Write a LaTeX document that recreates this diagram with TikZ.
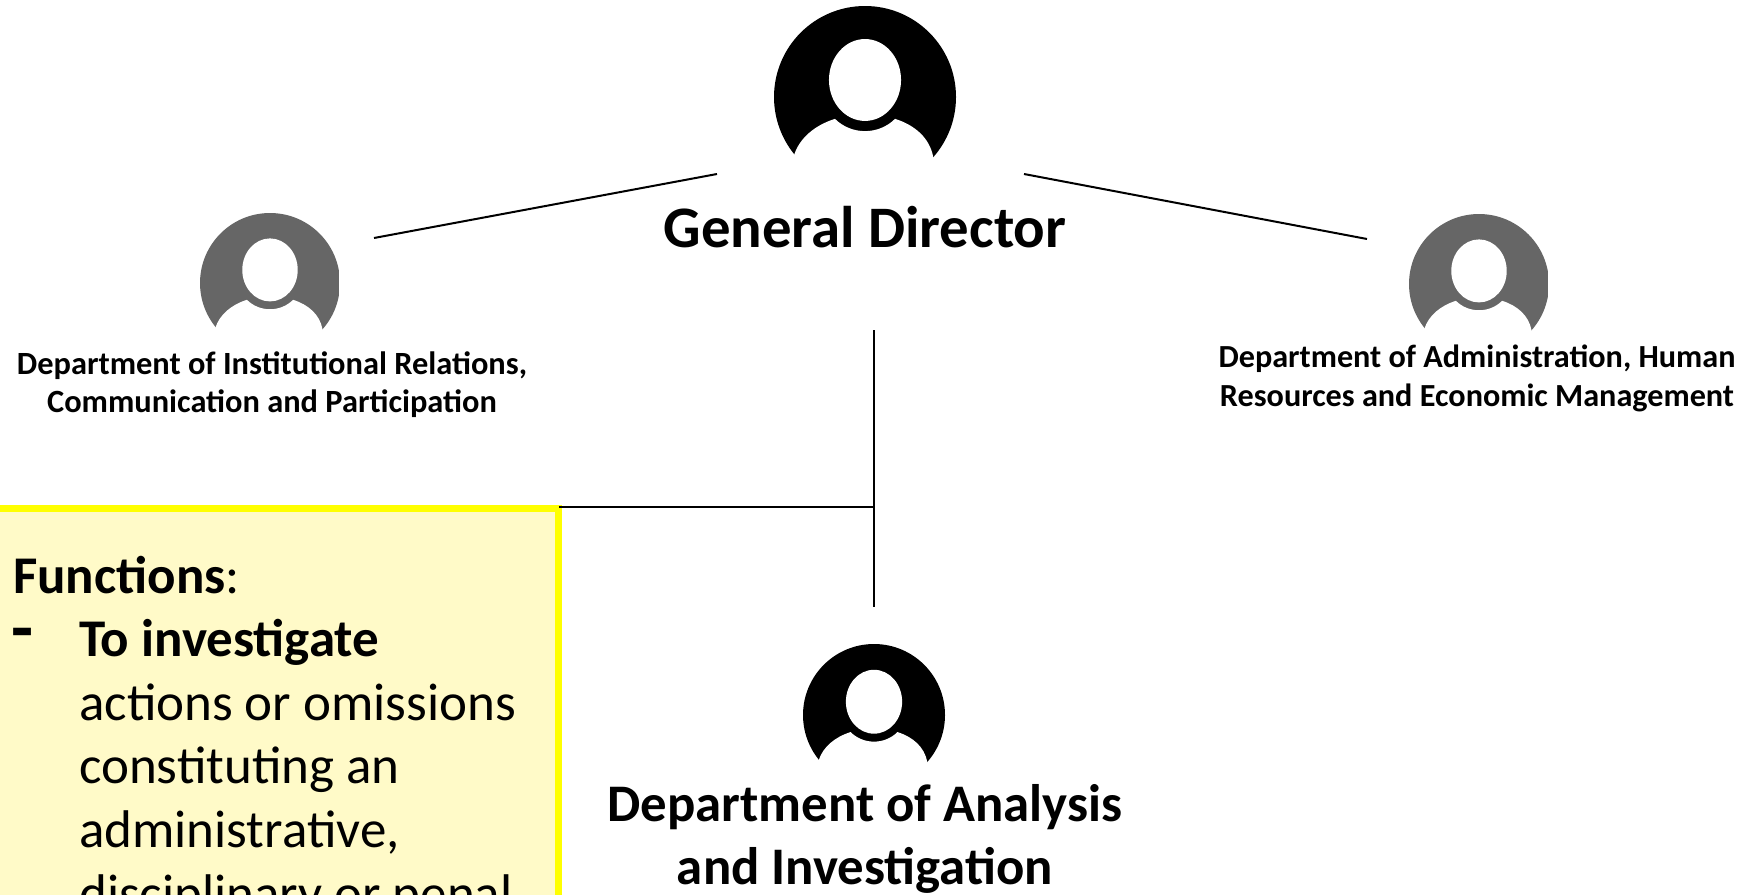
\documentclass[tikz,border=0pt]{standalone}
\usepackage{fontspec}
\setmainfont{Carlito}
\definecolor{boxfill}{HTML}{FFFAC8}
\definecolor{boxline}{HTML}{FFFF00}
\definecolor{icongrey}{HTML}{666666}
\tikzset{
  connector/.style={draw=black,line width=2pt},
  gdtitle/.style={font=\fontsize{58.8}{70}\selectfont\bfseries,align=center,inner sep=0pt,anchor=base},
  bigtitle/.style={font=\fontsize{52.8}{63.5}\selectfont\bfseries,align=center,inner sep=0pt,anchor=base},
  smalltitle/.style={font=\fontsize{32.4}{38}\selectfont\bfseries,align=center,inner sep=0pt,anchor=base},
  funcbox/.style={draw=boxline,fill=boxfill,line width=6.5pt,rectangle,outer sep=0pt,inner sep=0pt,anchor=north east},
  functext/.style={font=\fontsize{53}{63.7}\selectfont,align=left,inner sep=0pt},
}
\newcommand{\usericon}[6]{% name, x, y, R, colour, right clip
  \begin{scope}[shift={(#2,#3)},x=#4pt,y=-#4pt]
    \clip (-1.02,-1.02) rectangle (#6,1.02);
    \fill[#5] (0,0) circle[x radius=1,y radius=1];
    \fill[white] (0,-.187) ellipse[x radius=.396,y radius=.45];
    \fill[white] (-.78,.64) .. controls (-.72,.45) and (-.55,.31) .. (-.33,.24)
       .. controls (-.24,.33) and (-.12,.375) .. (0,.375)
       .. controls (.12,.375) and (.24,.33) .. (.33,.24)
       .. controls (.55,.31) and (.71,.45) .. (.75,.66)
       -- (.75,1.1) -- (-.78,1.1) -- cycle;
    \coordinate (#1) at (0,0);
  \end{scope}}
\begin{document}
\begin{tikzpicture}[x=1pt,y=-1pt]
\useasboundingbox (0,0) rectangle (1745,894);
\node[funcbox,minimum width=568pt,minimum height=430pt] (box) at (558.5,508.5) {};
\usericon{iconGD}{865}{97}{91}{black}{1.02}
\usericon{iconL}{270}{283}{70}{icongrey}{.985}
\usericon{iconR}{1479}{284}{70}{icongrey}{.985}
\usericon{iconD}{874}{715}{71}{black}{1.02}
\node[gdtitle] (gd) at (865,247.5) {General Director};
\node[smalltitle] (left) at (272,412.5) {Department of Institutional Relations,\\Communication and Participation};
\node[smalltitle,font=\fontsize{32.2}{39}\selectfont\bfseries] (right) at (1477,406) {Department of Administration, Human\\Resources and Economic Management};
\node[bigtitle] (dept) at (865,884.5) {Department of Analysis\\and Investigation};
\node[functext,anchor=base west] (fn) at (13,593.5) {\textbf{Functions}:};
\node[functext,anchor=base west,font=\fontsize{72}{72}\selectfont\bfseries] (dash) at (11,652) {-};
\node[functext,anchor=north west] (list) at (79,619) {\textbf{To investigate}\\actions or omissions\\constituting an\\administrative,\\disciplinary or penal};
\coordinate (lA) at (374,238);
\coordinate (lB) at (717,174);
\coordinate (rA) at (1024,174);
\coordinate (rB) at (1367,239);
\coordinate (vA) at (874,330);
\coordinate (vB) at (874,607);
\coordinate (jn) at (874,507);
\draw[connector] (lA) -- (lB);
\draw[connector] (rA) -- (rB);
\draw[connector] (vA) -- (vB);
\draw[connector] (jn) -- (jn -| box.east);
\end{tikzpicture}
\end{document}
